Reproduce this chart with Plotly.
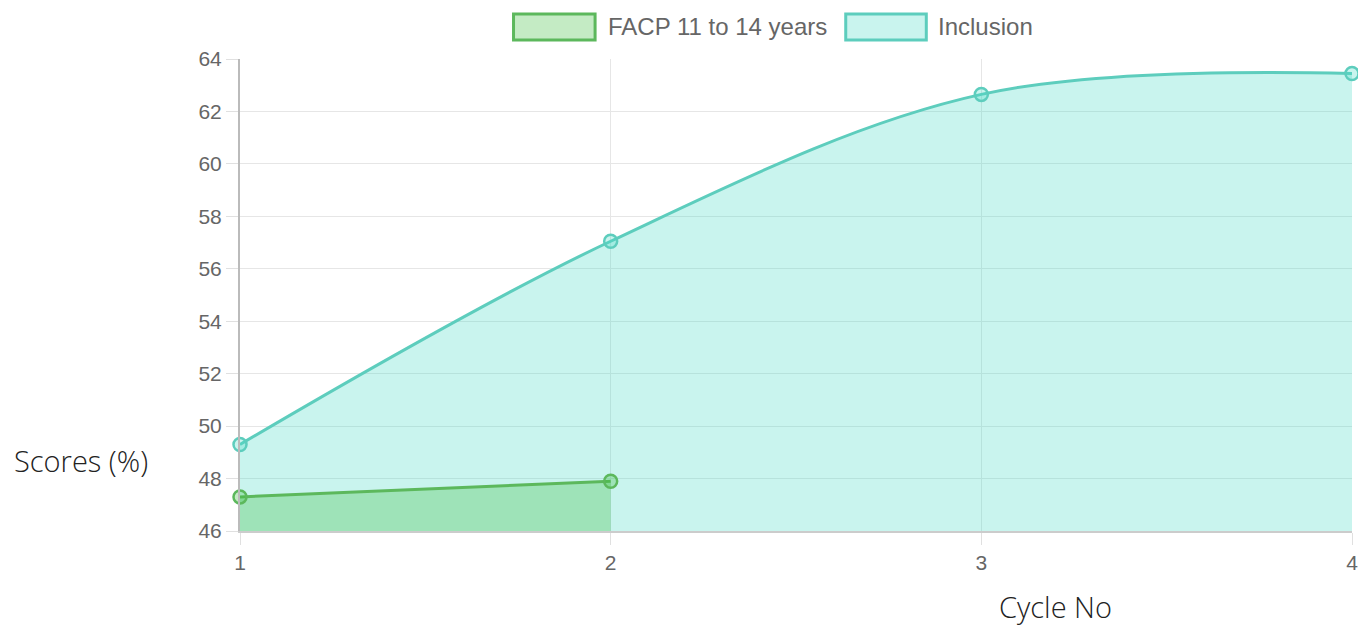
import plotly.graph_objects as go

cycles = [1, 2, 3, 4]
facp_cycles = [1, 2]
facp_scores = [47.3, 47.9]
inclusion_scores = [49.3, 57.05, 62.65, 63.45]
y_ticks = [46, 48, 50, 52, 54, 56, 58, 60, 62, 64]
series_names = ["FACP 11 to 14 years", "Inclusion"]

incl_line = "#5dcdbd"
incl_fill = "rgba(75,220,200,0.3)"
facp_line = "#5cb85c"
facp_fill = "rgba(60,190,60,0.3)"

fig = go.Figure()
fig.add_trace(go.Scatter(
    x=cycles, y=inclusion_scores, name=series_names[1],
    mode="lines+markers", fill="tozeroy", fillcolor=incl_fill,
    line=dict(color=incl_line, width=3, shape="spline", smoothing=1.0),
    marker=dict(size=13, color=incl_fill, line=dict(color=incl_line, width=2.5)),
    cliponaxis=False, showlegend=False,
))
fig.add_trace(go.Scatter(
    x=facp_cycles, y=facp_scores, name=series_names[0],
    mode="lines+markers", fill="tozeroy", fillcolor=facp_fill,
    line=dict(color=facp_line, width=3),
    marker=dict(size=13, color=facp_fill, line=dict(color=facp_line, width=2.5)),
    cliponaxis=False, showlegend=False,
))

tick_font = dict(family="Liberation Sans, Arial", size=21, color="#666666")
fig.update_xaxes(
    range=[1, 4], tickvals=cycles, ticktext=[str(c) for c in cycles],
    showgrid=True, gridcolor="#e6e6e6", gridwidth=1,
    showline=True, linecolor="#cccccc", linewidth=2,
    ticks="outside", ticklen=12, tickcolor="#e0e0e0", tickwidth=1,
    tickfont=tick_font, zeroline=False, ticklabeloverflow="allow",
)
fig.update_yaxes(
    range=[46, 64], tickvals=y_ticks,
    showgrid=True, gridcolor="#e6e6e6", gridwidth=1,
    showline=True, linecolor="#bbbbbb", linewidth=2,
    ticks="outside", ticklen=12, tickcolor="#e0e0e0", tickwidth=1,
    tickfont=tick_font, zeroline=False,
)

# page body has an 8px margin; figure placed so that plot area lands at
# screen x 240..1358, y 59..531
OFF = 8
W, H = 1350, 620
L, T = 240 - OFF, 59 - OFF
R = 0
B = H - T - 472
pw, ph = W - L - R, H - T - B

def px(xs):
    return (xs - OFF - L) / pw

def py(ys):
    return (H - B - (ys - OFF)) / ph

shapes = []
annotations = []
legend_items = [
    (series_names[0], facp_line, facp_fill, 515, 597, 608),
    (series_names[1], incl_line, incl_fill, 849, 930, 940),
]
for name, lc, fc, x0, x1, tx in legend_items:
    shapes.append(dict(type="rect", xref="paper", yref="paper",
                       x0=px(x0), x1=px(x1), y0=py(40), y1=py(14),
                       line=dict(color=lc, width=3), fillcolor=fc))
    annotations.append(dict(xref="paper", yref="paper", x=px(tx), y=py(27),
                            text=name, showarrow=False, xanchor="left", yanchor="middle",
                            font=dict(family="Liberation Sans, Arial", size=24, color="#666666")))

annotations.append(dict(xref="paper", yref="paper", x=px(80), y=py(460),
                        text="Scores (%)", showarrow=False, xanchor="center", yanchor="middle",
                        font=dict(family="Open Sans", size=29, color="#222222", weight=300)))
annotations.append(dict(xref="paper", yref="paper", x=px(1060), y=py(627),
                        text="Cycle No", showarrow=False, xanchor="center", yanchor="bottom",
                        borderpad=0,
                        font=dict(family="Open Sans", size=29, color="#222222", weight=300)))

fig.update_layout(
    width=W, height=H,
    margin=dict(l=L, r=R, t=T, b=B),
    plot_bgcolor="white", paper_bgcolor="white",
    shapes=shapes, annotations=annotations,
    showlegend=False,
)

fig.write_html("out.html")
